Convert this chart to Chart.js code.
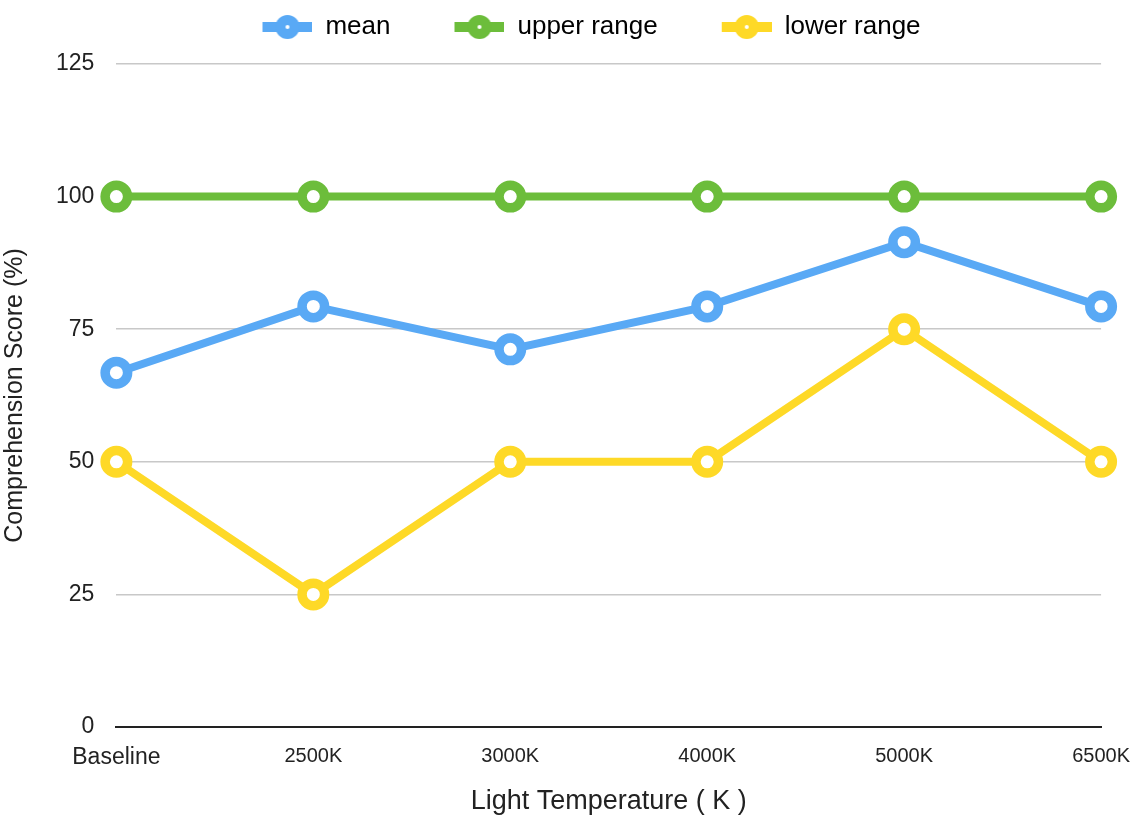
<!DOCTYPE html>
<html lang="en">
<head>
  <meta charset="UTF-8">
  <title>Comprehension Score</title>
  <script src="https://cdn.jsdelivr.net/npm/chart.js"></script>
  <style>
    html, body { margin: 0; padding: 0; background: #fff; }
    #wrap { width: 1147px; height: 818px; }
  </style>
</head>
<body>
  <div id="wrap"><canvas id="chart"></canvas></div>

  <script>
    const categories = ['Baseline', '2500K', '3000K', '4000K', '5000K', '6500K'];
    const meanValues = [66.8, 79.3, 71.2, 79.3, 91.4, 79.3];
    const upperValues = [100, 100, 100, 100, 100, 100];
    const lowerValues = [50, 25, 50, 50, 75, 50];
    const yTicks = [0, 25, 50, 75, 100, 125];

    const BLUE = '#59a9f5';
    const GREEN = '#6cbd3b';
    const YELLOW = '#fed927';
    const font = '"Liberation Sans", Arial, sans-serif';

    // line-with-dot icon for the legend; blank space on the left makes the gap between items
    const GAP = 52;
    function legendIcon(color) {
      const c = document.createElement('canvas');
      c.width = 50 + GAP; c.height = 28;
      const g = c.getContext('2d');
      g.fillStyle = color;
      g.fillRect(GAP, 9, 50, 10);
      g.beginPath();
      g.arc(GAP + 25, 14, 12, 0, Math.PI * 2);
      g.fill();
      g.fillStyle = '#fff';
      g.beginPath();
      g.arc(GAP + 25, 14, 2, 0, Math.PI * 2);
      g.fill();
      return c;
    }

    function series(label, data, color) {
      return {
        label: label,
        data: data,
        borderColor: color,
        backgroundColor: color,
        borderWidth: 8,
        pointStyle: 'circle',
        pointRadius: 11.25,
        pointBorderWidth: 9.5,
        pointBackgroundColor: '#fff',
        pointBorderColor: color,
        tension: 0,
        clip: false
      };
    }

    // push the plot down a bit below the legend
    const legendGap = {
      id: 'legendGap',
      beforeInit(chart) {
        const fit = chart.legend.fit;
        chart.legend.fit = function () {
          fit.bind(chart.legend)();
          this.height += 14;
        };
      }
    };

    new Chart(document.getElementById('chart'), {
      type: 'line',
      data: {
        labels: categories,
        datasets: [
          series('mean', meanValues, BLUE),
          series('upper range', upperValues, GREEN),
          series('lower range', lowerValues, YELLOW)
        ]
      },
      plugins: [legendGap],
      options: {
        responsive: true,
        maintainAspectRatio: false,
        animation: false,
        layout: { padding: { top: 2, right: 16, bottom: 0, left: 0 } },
        plugins: {
          tooltip: { enabled: false },
          legend: {
            position: 'top',
            labels: {
              usePointStyle: true,
              pointStyleWidth: 50 + GAP,
              boxHeight: 24,
              padding: 12,
              color: '#222',
              font: { family: font, size: 26 },
              generateLabels(chart) {
                return chart.data.datasets.map((ds, i) => ({
                  text: ds.label,
                  pointStyle: legendIcon(ds.borderColor),
                  fillStyle: ds.borderColor,
                  strokeStyle: ds.borderColor,
                  lineWidth: 0,
                  datasetIndex: i,
                  hidden: false
                }));
              }
            }
          }
        },
        scales: {
          x: {
            offset: false,
            grid: { display: false, drawTicks: false },
            border: { display: true, color: '#222', width: 2 },
            ticks: {
              color: '#222',
              padding: 17,
              font: ctx => ({ family: font, size: ctx.index === 0 ? 23 : 20 })
            },
            title: {
              display: true,
              text: 'Light Temperature ( K )',
              color: '#222',
              padding: { top: -3, bottom: 0 },
              font: { family: font, size: 27 }
            }
          },
          y: {
            min: 0,
            max: 125,
            afterBuildTicks(axis) { axis.ticks = yTicks.map(v => ({ value: v })); },
            grid: { color: '#c8c8c8', lineWidth: 1.5, drawTicks: false },
            border: { display: false },
            ticks: { color: '#222', padding: 22, font: { family: font, size: 23 } },
            title: {
              display: true,
              text: 'Comprehension Score (%)',
              color: '#222',
              padding: { top: 0, bottom: 4 },
              font: { family: font, size: 25 }
            }
          }
        }
      }
    });
  </script>
</body>
</html>
